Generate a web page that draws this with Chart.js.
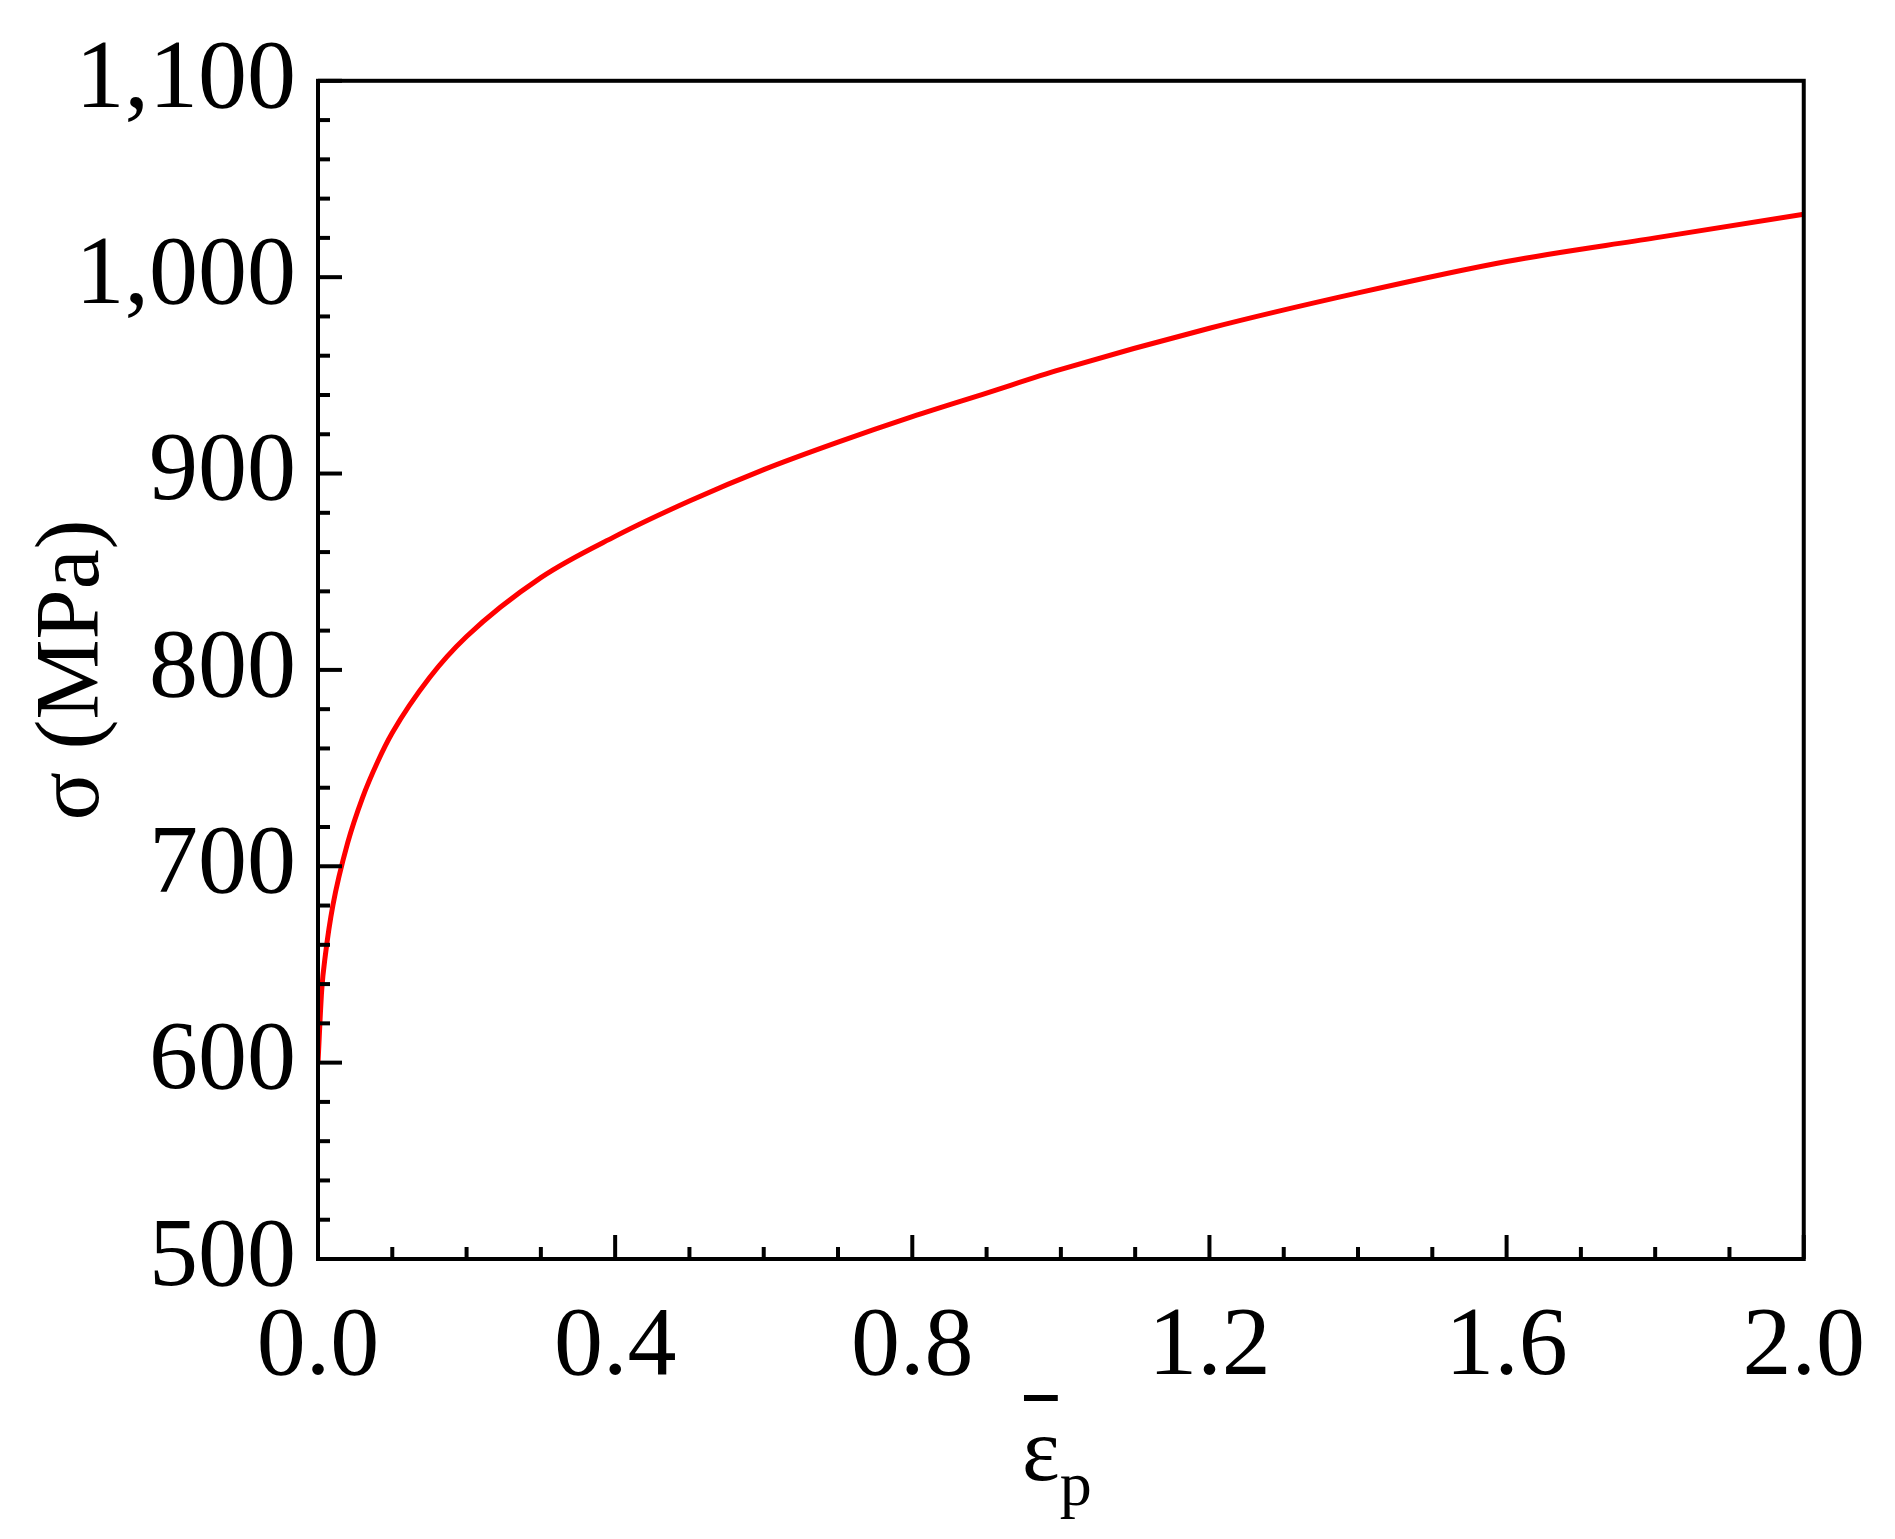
<!DOCTYPE html>
<html><head><meta charset="utf-8">
<script src="https://cdn.jsdelivr.net/npm/chart.js@4"></script>
<style>html,body{margin:0;padding:0;background:#fff}</style>
</head><body>
<div style="width:1895px;height:1539px"><canvas id="c" width="1895" height="1539"></canvas></div>
<script>
const strain = [0, 0.005, 0.01, 0.02, 0.04, 0.06, 0.08, 0.1, 0.15, 0.2, 0.3, 0.4, 0.5, 0.6, 0.7, 0.8, 0.9, 1.0, 1.2, 1.4, 1.6, 1.8, 2.0];
const stress = [600, 637, 655, 680, 712, 735, 753, 768, 796, 817, 847, 868, 886, 902, 916, 929, 941, 953, 974, 992, 1008, 1020, 1032];
const xTicks = [0, 0.4, 0.8, 1.2, 1.6, 2.0];
const yTicks = [500, 600, 700, 800, 900, 1000, 1100];
const FONT = '"Liberation Serif","Times New Roman",serif';

const frame = {
  id: 'frame',
  afterDraw(ch) {
    const {ctx, chartArea: a, scales: {x, y}} = ch;
    ctx.save();
    ctx.strokeStyle = '#000'; ctx.lineWidth = 4;
    ctx.strokeRect(a.left, a.top, a.right - a.left, a.bottom - a.top);
    ctx.lineWidth = 4;
    for (let v = 0; v <= 2.0001; v += 0.1) {
      const px = x.getPixelForValue(v);
      const major = Math.abs(v / 0.4 - Math.round(v / 0.4)) < 1e-6;
      ctx.beginPath(); ctx.moveTo(px, a.bottom); ctx.lineTo(px, a.bottom - (major ? 24 : 12)); ctx.stroke();
    }
    for (let v = 500; v <= 1100; v += 20) {
      const py = y.getPixelForValue(v);
      const major = v % 100 === 0;
      ctx.beginPath(); ctx.moveTo(a.left, py); ctx.lineTo(a.left + (major ? 24 : 12), py); ctx.stroke();
    }
    // x axis title: epsilon with overbar, subscript p
    ctx.fillStyle = '#000';
    ctx.font = '90px ' + FONT;
    ctx.textBaseline = 'alphabetic';
    const cx = (a.left + a.right) / 2 - 20;
    const w = ctx.measureText('ε').width;
    ctx.fillText('ε', cx - w / 2, 1480);
    ctx.fillRect(cx - w / 2 + 2, 1395, w - 4, 6);
    ctx.font = '64px ' + FONT;
    ctx.fillText('p', cx + w / 2, 1505);
    ctx.restore();
  }
};

new Chart(document.getElementById('c'), {
  type: 'line',
  data: { datasets: [{ data: strain.map((v, i) => ({x: v, y: stress[i]})), borderColor: '#ff0000', borderWidth: 5, pointRadius: 0, cubicInterpolationMode: 'monotone', fill: false }] },
  options: {
    responsive: false, animation: false,
    layout: { padding: { top: 60, right: 80, left: 20, bottom: 0 } },
    plugins: { legend: { display: false }, tooltip: { enabled: false } },
    scales: {
      x: {
        type: 'linear', min: 0, max: 2.0,
        afterBuildTicks: s => { s.ticks = xTicks.map(v => ({value: v})); },
        afterFit: s => { s.height = 1539 - 1259; },
        grid: { display: false, drawTicks: false }, border: { display: false },
        ticks: { padding: 30, color: '#000', font: { family: FONT, size: 98 }, callback: v => v.toFixed(1), maxRotation: 0 }
      },
      y: {
        min: 500, max: 1100,
        afterBuildTicks: s => { s.ticks = yTicks.map(v => ({value: v})); },
        afterFit: s => { s.width = 318 - 20; },
        grid: { display: false, drawTicks: false }, border: { display: false },
        title: { display: true, text: 'σ (MPa)', color: '#000', font: { family: FONT, size: 90 }, padding: 0 },
        ticks: { padding: 22, color: '#000', font: { family: FONT, size: 98 } }
      }
    }
  },
  plugins: [frame]
});
</script>
</body></html>
